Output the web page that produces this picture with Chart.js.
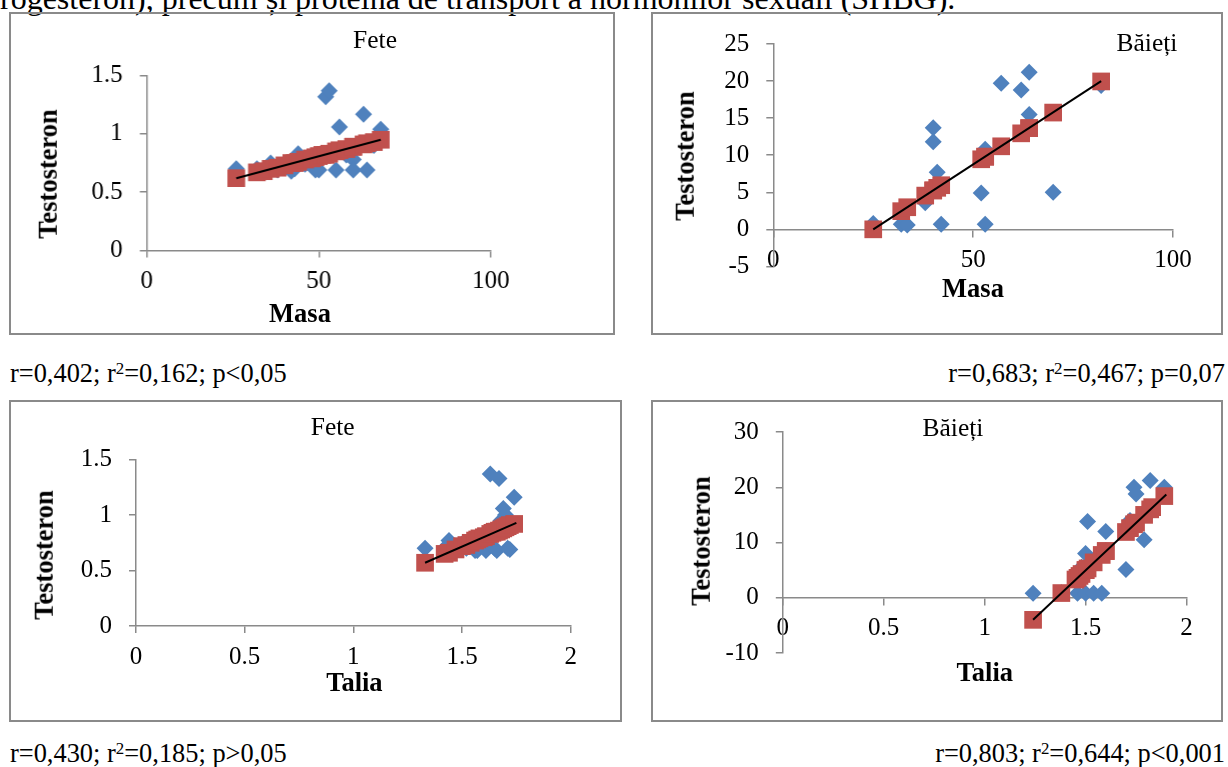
<!DOCTYPE html>
<html>
<head>
<meta charset="utf-8">
<script src="https://cdn.jsdelivr.net/npm/chart.js"></script>
<style>
  html, body { margin: 0; padding: 0; background: #fff; overflow: hidden; }
  body { width: 1228px; height: 767px; position: relative;
         font-family: "Liberation Serif", "Times New Roman", serif; color: #000; }
  .box { position: absolute; box-sizing: border-box; border: 2px solid #8a8a8a; }
  .plot { position: absolute; }
  .t { position: absolute; line-height: 1; white-space: nowrap; transform: translate(-50%, -50%); font-size: 25.5px; }
  .ax { font-weight: bold; font-size: 26.5px; }
  .rot { transform: translate(-50%, -50%) rotate(-90deg); }
  .stat { position: absolute; font-size: 26.4px; line-height: 1; white-space: nowrap; }
  sup { font-size: 0.64em; vertical-align: 0.5em; line-height: 0; }
</style>
</head>
<body>
  <div class="stat" style="left:0px; top:-18.3px; font-size:32px;">rogesteron), precum și proteina de transport a hormonilor sexuali (SHBG).</div>

  <div class="box" style="left:9px; top:12.3px; width:605.5px; height:323px;"></div>
  <div class="plot" style="left:9px; top:12.3px; width:605.5px; height:323px;"><canvas id="c1"></canvas></div>
  <div class="t" style="left:375px; top:40px;">Fete</div>
  <div class="t ax" style="left:300px; top:313px;">Masa</div>
  <div class="t ax rot" style="left:47.6px; top:174px;">Testosteron</div>

  <div class="box" style="left:650.5px; top:12.3px; width:572.9px; height:323px;"></div>
  <div class="plot" style="left:650.5px; top:12.3px; width:572.9px; height:323px;"><canvas id="c2"></canvas></div>
  <div class="t" style="left:1147px; top:42.5px;">Băieți</div>
  <div class="t ax" style="left:973px; top:287.5px;">Masa</div>
  <div class="t ax rot" style="left:685px; top:156px;">Testosteron</div>

  <div class="stat" style="left:10px; top:359.6px;">r=0,402; r<sup>2</sup>=0,162; p&lt;0,05</div>
  <div class="stat" style="right:3px; top:359.6px;">r=0,683; r<sup>2</sup>=0,467; p=0,07</div>

  <div class="box" style="left:9px; top:399.7px; width:613px; height:322px;"></div>
  <div class="plot" style="left:9px; top:399.7px; width:613px; height:322px;"><canvas id="c3"></canvas></div>
  <div class="t" style="left:332.7px; top:426.5px;">Fete</div>
  <div class="t ax" style="left:354.4px; top:682px;">Talia</div>
  <div class="t ax rot" style="left:43.6px; top:555px;">Testosteron</div>

  <div class="box" style="left:650.5px; top:399.7px; width:572.9px; height:322px;"></div>
  <div class="plot" style="left:650.5px; top:399.7px; width:572.9px; height:322px;"><canvas id="c4"></canvas></div>
  <div class="t" style="left:953px; top:428px;">Băieți</div>
  <div class="t ax" style="left:984.8px; top:672px;">Talia</div>
  <div class="t ax rot" style="left:701px; top:541px;">Testosteron</div>

  <div class="stat" style="left:10px; top:739.6px;">r=0,430; r<sup>2</sup>=0,185; p&gt;0,05</div>
  <div class="stat" style="right:3px; top:739.6px;">r=0,803; r<sup>2</sup>=0,644; p&lt;0,001</div>

<script>
// Fete - Masa
const feteMasaX = [26, 32, 34, 36, 38, 40, 42, 43, 44, 46, 48, 49, 50, 51, 52, 53, 55, 56, 58, 60, 60, 63, 64, 66, 68];
const feteMasaY = [0.70, 0.70, 0.69, 0.75, 0.69, 0.72, 0.68, 0.70, 0.83, 0.74, 0.78, 0.69, 0.69, 0.80, 1.32, 1.37, 0.69, 1.06, 0.82, 0.78, 0.69, 1.17, 0.69, 0.90, 1.04];
const feteMasaPred = [0.62, 0.67, 0.68, 0.70, 0.71, 0.73, 0.75, 0.75, 0.76, 0.78, 0.79, 0.80, 0.81, 0.82, 0.82, 0.83, 0.85, 0.86, 0.87, 0.89, 0.89, 0.91, 0.92, 0.93, 0.95];
const feteMasaTrendX = [26, 68];
const feteMasaTrendY = [0.62, 0.95];

// Baieti - Masa
const baietiMasaX = [25, 32, 33.5, 38, 40, 40, 41, 42, 52, 53, 53, 57, 62, 64, 64, 70, 82];
const baietiMasaY = [0.8, 0.7, 0.6, 3.6, 13.7, 11.8, 7.7, 0.7, 4.9, 10.8, 0.7, 19.7, 18.8, 21.2, 15.5, 5.0, 19.4];
const baietiMasaPred = [0.0, 2.45, 2.98, 4.55, 5.25, 5.25, 5.6, 5.95, 9.45, 9.8, 9.8, 11.2, 12.95, 13.65, 13.65, 15.75, 19.95];
const baietiMasaTrendX = [25, 82];
const baietiMasaTrendY = [0, 20];

// Fete - Talia
const feteTaliaX = [1.33, 1.42, 1.44, 1.47, 1.50, 1.52, 1.54, 1.56, 1.57, 1.58, 1.60, 1.61, 1.63, 1.64, 1.65, 1.66, 1.67, 1.68, 1.69, 1.70, 1.71, 1.72, 1.74];
const feteTaliaY = [0.70, 0.70, 0.77, 0.72, 0.74, 0.70, 0.75, 0.68, 0.68, 0.78, 0.80, 0.68, 1.37, 0.85, 0.70, 0.68, 1.33, 0.95, 1.06, 1.00, 0.70, 0.69, 1.16];
const feteTaliaPred = [0.57, 0.65, 0.66, 0.69, 0.72, 0.73, 0.75, 0.77, 0.78, 0.79, 0.80, 0.81, 0.83, 0.84, 0.85, 0.85, 0.86, 0.87, 0.88, 0.89, 0.90, 0.91, 0.92];
const feteTaliaTrendX = [1.33, 1.75];
const feteTaliaTrendY = [0.57, 0.93];

// Baieti - Talia
const baietiTaliaX = [1.24, 1.38, 1.45, 1.46, 1.47, 1.48, 1.50, 1.50, 1.51, 1.54, 1.58, 1.60, 1.60, 1.70, 1.72, 1.74, 1.75, 1.79, 1.82, 1.83, 1.89];
const baietiTaliaY = [0.8, 0.9, 3.5, 0.8, 4.5, 5.5, 8.0, 0.8, 13.8, 0.8, 0.8, 12.0, 8.5, 5.1, 14.0, 20.0, 18.8, 10.5, 21.2, 15.8, 20.0];
const baietiTaliaPred = [-4.0, 0.85, 3.3, 3.6, 3.95, 4.3, 5.0, 5.0, 5.3, 6.4, 7.75, 8.45, 8.45, 11.9, 12.6, 13.3, 13.6, 15.0, 16.0, 16.4, 18.4];
const baietiTaliaTrendX = [1.24, 1.90];
const baietiTaliaTrendY = [-4.0, 18.7];

const BLUE = '#4F81BD';
const RED = '#C0504D';
const AXIS = '#8a8a8a';

Chart.defaults.font.family = '"Liberation Serif", "Times New Roman", serif';
Chart.defaults.font.size = 25;
Chart.defaults.color = '#000';

function pts(xs, ys) {
  return xs.map((x, i) => ({ x: x, y: ys[i] }));
}

const fmt = v => String(Math.round(v * 100) / 100);

function makeChart(id, c) {
  new Chart(document.getElementById(id), {
    type: 'scatter',
    data: {
      datasets: [
        { data: pts(c.trendX, c.trendY), showLine: true, borderColor: '#000', borderWidth: 2,
          pointRadius: 0, order: 0, clip: false },
        { data: pts(c.x, c.pred), pointStyle: 'rect', pointRadius: 12.5, backgroundColor: RED,
          pointBorderWidth: 0, borderWidth: 0, order: 1, clip: false },
        { data: pts(c.x, c.y), pointStyle: 'rectRot', pointRadius: 8.5, backgroundColor: BLUE,
          pointBorderWidth: 0, borderWidth: 0, order: 2, clip: false }
      ]
    },
    options: {
      responsive: true,
      maintainAspectRatio: false,
      animation: false,
      locale: 'en-US',
      layout: { padding: c.pad },
      plugins: { legend: { display: false }, tooltip: { enabled: false } },
      scales: {
        x: {
          type: 'linear', min: c.xMin, max: c.xMax,
          position: c.cross ? { y: 0 } : 'bottom',
          ticks: { stepSize: c.xStep, padding: 9, callback: fmt, maxRotation: 0, autoSkip: false },
          grid: { drawOnChartArea: false, drawTicks: true, tickLength: 7, color: AXIS, lineWidth: 1.5 },
          border: { display: true, color: AXIS, width: 1.5 },
          afterFit: s => { if (!c.cross) s.height = 40; }
        },
        y: {
          type: 'linear', min: c.yMin, max: c.yMax,
          ticks: { stepSize: c.yStep, padding: 17, callback: fmt },
          grid: { drawOnChartArea: false, drawTicks: true, tickLength: 7, color: AXIS, lineWidth: 1.5 },
          border: { display: true, color: AXIS, width: 1.5 },
          afterFit: s => { s.width = 60; }
        }
      }
    }
  });
}

makeChart('c1', {
  x: feteMasaX, y: feteMasaY, pred: feteMasaPred, trendX: feteMasaTrendX, trendY: feteMasaTrendY,
  xMin: 0, xMax: 100, xStep: 50, yMin: 0, yMax: 1.5, yStep: 0.5, cross: false,
  pad: { left: 77.6, right: 124.5, top: 63.7, bottom: 44.6 }
});
makeChart('c2', {
  x: baietiMasaX, y: baietiMasaY, pred: baietiMasaPred, trendX: baietiMasaTrendX, trendY: baietiMasaTrendY,
  xMin: 0, xMax: 100, xStep: 50, yMin: -5, yMax: 25, yStep: 5, cross: true,
  pad: { left: 62.3, right: 50.8, top: 30.4, bottom: 68.6 }
});
makeChart('c3', {
  x: feteTaliaX, y: feteTaliaY, pred: feteTaliaPred, trendX: feteTaliaTrendX, trendY: feteTaliaTrendY,
  xMin: 0, xMax: 2, xStep: 0.5, yMin: 0, yMax: 1.5, yStep: 0.5, cross: false,
  pad: { left: 67, right: 51.3, top: 59.6, bottom: 56 }
});
makeChart('c4', {
  x: baietiTaliaX, y: baietiTaliaY, pred: baietiTaliaPred, trendX: baietiTaliaTrendX, trendY: baietiTaliaTrendY,
  xMin: 0, xMax: 2, xStep: 0.5, yMin: -10, yMax: 30, yStep: 10, cross: true,
  pad: { left: 71.8, right: 37.4, top: 30.3, bottom: 69 }
});
</script>
</body>
</html>
